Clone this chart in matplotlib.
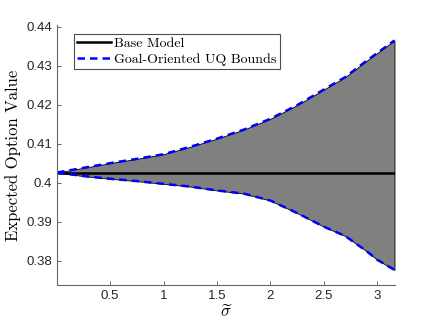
import numpy as np
import matplotlib
matplotlib.use("Agg")
import matplotlib.pyplot as plt

# values
sigma = [0.005, 0.25, 0.5, 0.75, 1.0, 1.25, 1.5, 1.75, 2.0, 2.25, 2.5, 2.7, 2.9, 3.0, 3.16]
base = [0.4026] * len(sigma)
upper = [0.4026, 0.4038, 0.4050, 0.4061, 0.4073, 0.4092, 0.4113, 0.4136, 0.4164, 0.4199, 0.4239, 0.4271, 0.4313, 0.4333, 0.4365]
lower = [0.4026, 0.4017, 0.4010, 0.4004, 0.3997, 0.3990, 0.3980, 0.3972, 0.3954, 0.3922, 0.3887, 0.3863, 0.3824, 0.3802, 0.3776]

plt.rcParams['mathtext.fontset'] = 'cm'
tick_font = 'Liberation Sans'
serif_font = 'cmr10'

fig = plt.figure(figsize=(4.36, 3.27), dpi=100)
ax = fig.add_axes([0.131, 0.128, 0.775, 0.796])

ax.fill_between(sigma, lower, upper, facecolor=(0.5, 0.5, 0.5), edgecolor='k', linewidth=0.6)
ax.plot(sigma, base, color='k', linewidth=1.8, label='Base Model')
ax.plot(sigma, upper, color='b', linestyle='--', dashes=(3, 2), linewidth=1.8, label='Goal-Oriented UQ Bounds')
ax.plot(sigma, lower, color='b', linestyle='--', dashes=(3, 2), linewidth=1.8)

ax.set_xlim(0.005, 3.165)
ax.set_ylim(0.3737, 0.4405)
ax.set_xticks([0.5, 1, 1.5, 2, 2.5, 3])
ax.set_xticklabels(['0.5', '1', '1.5', '2', '2.5', '3'])
ax.set_yticks([0.38, 0.39, 0.40, 0.41, 0.42, 0.43, 0.44])
ax.set_yticklabels(['0.38', '0.39', '0.4', '0.41', '0.42', '0.43', '0.44'])

for s in ['top', 'right']:
    ax.spines[s].set_visible(False)
for s in ['left', 'bottom']:
    ax.spines[s].set_color('0.4')
    ax.spines[s].set_linewidth(0.8)
ax.tick_params(direction='in', length=3, width=0.6, color='0.3', labelsize=9.5, labelcolor='0.15')
for lab in ax.get_xticklabels() + ax.get_yticklabels():
    lab.set_fontfamily(tick_font)

ax.set_xlabel(r'$\widetilde{\sigma}$', fontsize=12, labelpad=0)
ax.set_ylabel('Expected Option Value', fontsize=12, fontfamily=serif_font, labelpad=4)

leg = ax.legend(loc='upper left', bbox_to_anchor=(0.05, 0.965), fancybox=False, framealpha=1,
                edgecolor='0.3', prop={'family': serif_font, 'size': 10},
                handlelength=2.4, handletextpad=0.2, borderpad=0.25, labelspacing=0.2,
                borderaxespad=0)
leg.get_frame().set_linewidth(0.8)

fig.savefig('out.png', dpi=100)
